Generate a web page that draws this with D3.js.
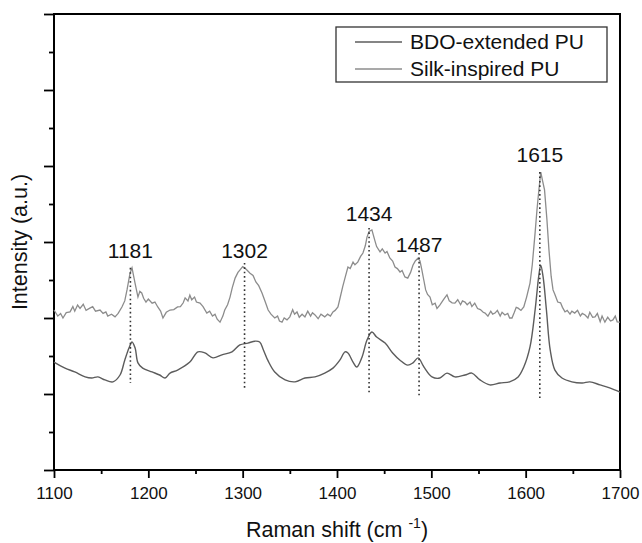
<!DOCTYPE html>
<html>
<head>
<meta charset="utf-8">
<script src="https://cdn.jsdelivr.net/npm/d3@7"></script>
<style>
	body { margin: 0; background: #fff; }
	text { font-family: "Liberation Sans", Arial, sans-serif; fill: #111; }
</style>
</head>
<body>
<div id="viz"></div>
<script>

//==============================================================================
// Data (Raman shift in cm-1, intensity in arbitrary units)

// Silk-inspired PU, upper (noisy) trace
var silk = [
	[1100,4.21],[1104,4.05],[1107,4.12],[1109.5,4.00],[1113,4.14],[1117,4.16],[1120,4.30],[1122,4.18],
	[1125,4.34],[1127.6,4.25],[1131,4.36],[1134,4.20],[1138,4.26],[1141,4.30],[1144,4.18],[1148.8,4.21],
	[1152,4.12],[1155,4.16],[1157,4.05],[1161,4.10],[1164.7,4.03],[1168,4.12],[1172,4.29],[1175,4.45],
	[1177.4,4.74],[1180.6,5.18],[1182.7,5.32],[1185.9,4.92],[1189,4.55],[1191,4.70],[1193,4.66],[1195,4.52],
	[1197.5,4.42],[1200,4.50],[1204,4.39],[1207,4.42],[1210,4.29],[1213,4.18],[1215.5,4.00],[1219,4.15],
	[1223,4.21],[1227,4.22],[1231,4.29],[1234,4.30],[1237,4.40],[1239,4.53],[1242,4.45],[1244,4.60],
	[1246,4.48],[1249,4.55],[1251,4.42],[1254.8,4.39],[1258,4.30],[1262,4.13],[1265,4.18],[1268,4.05],
	[1270.7,4.10],[1273,3.97],[1276,3.89],[1279,4.05],[1281,4.21],[1284,4.35],[1286.6,4.55],[1289,4.80],
	[1292,5.05],[1295,5.20],[1297,5.26],[1300,5.35],[1302,5.32],[1305,5.25],[1307.8,5.18],[1311,5.12],
	[1314,4.95],[1317,4.85],[1320.5,4.66],[1324,4.42],[1327,4.21],[1330,4.10],[1334,4.00],[1337,4.05],
	[1339,3.92],[1341.7,3.89],[1344,4.00],[1347,3.95],[1350,4.03],[1353,4.22],[1355,4.10],[1357.6,4.16],
	[1360,4.02],[1363,4.10],[1366,4.03],[1369,4.18],[1372,4.05],[1374,4.14],[1376.7,4.08],[1380,3.98],
	[1383,4.10],[1387,4.03],[1390,4.10],[1393,4.05],[1395.7,4.16],[1398,4.20],[1401,4.29],[1403,4.50],
	[1406,4.82],[1409,5.10],[1411.6,5.34],[1414,5.30],[1417,5.47],[1419,5.40],[1422,5.47],[1425,5.62],
	[1427.5,5.71],[1430,5.90],[1431.8,6.13],[1434,6.28],[1437,6.32],[1440,6.05],[1442,5.88],[1445.6,5.74],
	[1448,5.82],[1451,5.71],[1453,5.75],[1456,5.58],[1459,5.50],[1461.5,5.34],[1464,5.30],[1466.8,5.21],
	[1469,5.25],[1472,5.08],[1475,5.05],[1478,5.20],[1480.5,5.39],[1483,5.50],[1486,5.58],[1488,5.50],
	[1490,5.26],[1492,5.00],[1494,4.74],[1496,4.62],[1498.6,4.55],[1501,4.35],[1504,4.39],[1506,4.25],
	[1509,4.34],[1512,4.45],[1514,4.52],[1516.6,4.61],[1519,4.45],[1522,4.40],[1525,4.39],[1528,4.48],
	[1531,4.35],[1533,4.45],[1535.7,4.42],[1538,4.35],[1541,4.42],[1543,4.30],[1546,4.39],[1549,4.25],
	[1552,4.22],[1555,4.15],[1557,4.13],[1560,4.05],[1563,4.18],[1565,4.10],[1567.5,4.13],[1570,4.20],
	[1573,4.05],[1575,4.15],[1578,4.08],[1581,4.12],[1583,4.00],[1585.5,4.00],[1588,4.15],[1590,4.28],
	[1592,4.26],[1595,4.20],[1598,4.29],[1601,4.55],[1604.6,4.92],[1607,5.40],[1610,6.24],[1612,6.85],
	[1614,7.37],[1616,7.84],[1618,7.60],[1620,7.37],[1622.5,6.60],[1624.7,5.79],[1627,5.10],[1629,4.74],
	[1631,4.62],[1634,4.42],[1637,4.40],[1639,4.28],[1641.7,4.16],[1644,4.20],[1647,4.10],[1649,4.18],
	[1652,4.13],[1655,4.20],[1658,4.05],[1660,4.12],[1663,4.08],[1666,4.00],[1668,4.15],[1671,4.02],
	[1673.5,4.03],[1676,4.12],[1679,3.90],[1681,4.05],[1684,3.89],[1687,4.02],[1690,3.92],[1692.5,3.95],
	[1695,4.05],[1697,3.90],[1700,3.89]
];

// BDO-extended PU, lower (smooth) trace
var bdo = [
	[1100,2.84],[1111.7,2.68],[1122,2.58],[1133,2.45],[1140,2.42],[1146.6,2.45],[1154,2.37],[1162.5,2.32],
	[1170,2.50],[1175,2.89],[1179.5,3.21],[1182.7,3.37],[1186,3.21],[1189,2.82],[1194,2.68],[1204,2.58],
	[1212,2.50],[1217.7,2.42],[1223,2.55],[1231,2.63],[1244,2.84],[1252.6,3.11],[1260,3.08],[1268.5,2.95],
	[1278,3.03],[1288.7,3.11],[1297,3.29],[1305.6,3.34],[1313,3.39],[1318,3.37],[1322,3.16],[1327,2.87],
	[1334,2.58],[1345,2.37],[1355.5,2.32],[1366,2.42],[1376.7,2.45],[1387,2.55],[1395.7,2.68],[1403,2.89],
	[1408.5,3.11],[1411.6,3.08],[1417,2.84],[1421,2.71],[1426.5,2.97],[1431.8,3.42],[1437,3.63],[1442,3.50],
	[1451,3.34],[1459,3.08],[1466.8,2.89],[1475,2.76],[1480.5,2.82],[1486,2.95],[1491,2.76],[1493,2.68],
	[1500.7,2.45],[1509,2.42],[1516.6,2.55],[1525,2.45],[1535.7,2.50],[1543,2.55],[1551.6,2.37],[1562,2.24],
	[1572.8,2.29],[1583,2.32],[1592,2.45],[1598,2.71],[1604.6,3.24],[1610,4.21],[1614,5.13],[1616,5.39],
	[1618.5,5.08],[1622,4.21],[1626,3.16],[1631,2.63],[1638.5,2.42],[1649,2.32],[1660,2.29],[1668,2.32],
	[1678.8,2.24],[1689,2.16],[1700,2.05]
];

// Peak markers: position, label height, dotted line top and bottom
var peaks = [1181, 1302, 1434, 1487, 1615];
var peak_label_y = [5.58, 5.58, 6.55, 5.74, 8.1];
var peak_line_top = [5.32, 5.45, 6.37, 5.71, 7.84];
var peak_line_bottom = [2.29, 2.1, 1.97, 1.97, 1.84];

// Axis ticks
var x_major = [1100, 1200, 1300, 1400, 1500, 1600, 1700];
var x_minor = [1150, 1250, 1350, 1450, 1550, 1650];
var y_major = [0, 2, 4, 6, 8, 10, 12];
var y_minor = [1, 3, 5, 7, 9, 11];

var series_names = ["BDO-extended PU", "Silk-inspired PU"];
var series_colors = ["#5c5c5c", "#8c8c8c"];


//==============================================================================
// Initial variables
var width = 642;
var height = 543;
var left = 54, right = 620, top_y = 14, bottom = 470;
var font = "'Liberation Sans', Arial, sans-serif";

var svg = d3.select("#viz")
	.append("svg")
	.attr("width", width)
	.attr("height", height);

var x = d3.scaleLinear().domain([1100, 1700]).range([left, right]);
var y = d3.scaleLinear().domain([0, 12]).range([bottom, top_y]);


//==============================================================================
// Axes and frame

var style_axis = function(g) {
	g.select(".domain").remove();
	g.selectAll(".tick line").attr("stroke", "#000").attr("stroke-width", 1.8);
	g.selectAll(".tick text").attr("fill", "#111").style("font-family", font).style("font-size", "17px");
};

svg.append("g")
	.attr("transform", "translate(0," + bottom + ")")
	.call(d3.axisBottom(x).tickValues(x_major).tickSize(8).tickPadding(9).tickFormat(d3.format("d")))
	.call(style_axis);

svg.append("g")
	.attr("transform", "translate(0," + bottom + ")")
	.call(d3.axisBottom(x).tickValues(x_minor).tickSize(4).tickFormat(""))
	.call(style_axis);

svg.append("g")
	.attr("transform", "translate(" + left + ",0)")
	.call(d3.axisLeft(y).tickValues(y_major).tickSize(10).tickFormat(""))
	.call(style_axis);

svg.append("g")
	.attr("transform", "translate(" + left + ",0)")
	.call(d3.axisLeft(y).tickValues(y_minor).tickSize(5).tickFormat(""))
	.call(style_axis);

// Box around the plot
svg.append("rect")
	.attr("x", left)
	.attr("y", top_y)
	.attr("width", right - left)
	.attr("height", bottom - top_y)
	.attr("fill", "none")
	.attr("stroke", "#000")
	.attr("stroke-width", 2);


//==============================================================================
// Spectra

var line = d3.line()
	.x(function(d) { return x(d[0]) })
	.y(function(d) { return y(d[1]) });

svg.append("path")
	.attr("d", line.curve(d3.curveCatmullRom)(bdo))
	.attr("fill", "none")
	.attr("stroke", series_colors[0])
	.attr("stroke-width", 1.4);

svg.append("path")
	.attr("d", line.curve(d3.curveLinear)(silk))
	.attr("fill", "none")
	.attr("stroke", series_colors[1])
	.attr("stroke-width", 1.3);


//==============================================================================
// Dotted peak markers and labels

svg.append("g")
	.selectAll("line")
	.data(peaks)
	.enter().append("line")
	.attr("x1", function(d) { return x(d) })
	.attr("x2", function(d) { return x(d) })
	.attr("y1", function(d, i) { return y(peak_line_top[i]) })
	.attr("y2", function(d, i) { return y(peak_line_bottom[i]) })
	.attr("stroke", "#333")
	.attr("stroke-width", 1.6)
	.attr("stroke-dasharray", "1.6,2.8");

svg.append("g")
	.selectAll("text")
	.data(peaks)
	.enter().append("text")
	.attr("x", function(d) { return x(d) })
	.attr("y", function(d, i) { return y(peak_label_y[i]) })
	.attr("text-anchor", "middle")
	.style("font-size", "21px")
	.text(function(d) { return d });


//==============================================================================
// Axis titles

var xtitle = svg.append("text")
	.attr("x", (left + right) / 2)
	.attr("y", 537)
	.attr("text-anchor", "middle")
	.style("font-size", "21.5px");
xtitle.append("tspan").text("Raman shift (cm ");
xtitle.append("tspan").attr("dy", -9).style("font-size", "14px").text("-1");
xtitle.append("tspan").attr("dy", 9).text(")");

svg.append("text")
	.attr("transform", "translate(27," + ((top_y + bottom) / 2) + ") rotate(-90)")
	.attr("text-anchor", "middle")
	.style("font-size", "21.5px")
	.text("Intensity (a.u.)");


//==============================================================================
// Legend

var legend = svg.append("g").attr("class", "legend");

legend.append("rect")
	.attr("x", 336)
	.attr("y", 27)
	.attr("width", 271)
	.attr("height", 55)
	.attr("fill", "#fff")
	.attr("stroke", "#333")
	.attr("stroke-width", 1.3);

var rows = legend.selectAll("g")
	.data(series_names)
	.enter().append("g")
	.attr("transform", function(d, i) { return "translate(0," + (42 + i * 27) + ")" });

rows.append("line")
	.attr("x1", 355)
	.attr("x2", 402)
	.attr("stroke", function(d, i) { return series_colors[i] })
	.attr("stroke-width", 1.3);

rows.append("text")
	.attr("x", 410)
	.attr("dy", "0.35em")
	.style("font-size", "21px")
	.text(function(d) { return d });

</script>
</body>
</html>
